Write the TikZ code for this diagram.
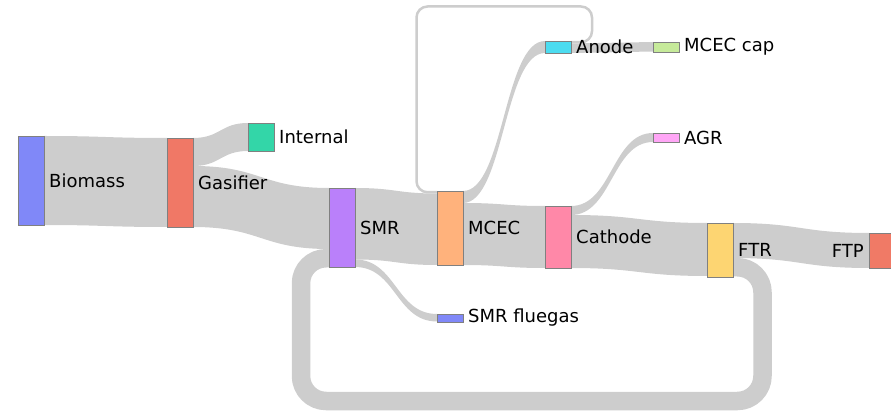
\documentclass[tikz,border=0pt]{standalone}
\usepackage{fontspec}
\setmainfont{DejaVu Sans}
\usetikzlibrary{calc}
\pgfdeclarelayer{bg}
\pgfsetlayers{bg,main}
\definecolor{linkgray}{RGB}{205,205,205}
\definecolor{cBio}{RGB}{128,136,248}
\definecolor{cGas}{RGB}{240,120,102}
\definecolor{cInt}{RGB}{51,214,168}
\definecolor{cSmr}{RGB}{186,128,250}
\definecolor{cMcec}{RGB}{255,178,124}
\definecolor{cCath}{RGB}{255,136,168}
\definecolor{cAnode}{RGB}{76,220,240}
\definecolor{cCap}{RGB}{198,234,154}
\definecolor{cAgr}{RGB}{255,166,246}
\definecolor{cFtr}{RGB}{253,213,114}
\definecolor{cFtp}{RGB}{240,122,102}
\definecolor{cFlue}{RGB}{128,136,248}
\tikzset{
  sknode/.style={draw=black!50, line width=0.6pt, inner sep=0pt, outer sep=0pt,
    minimum width=26pt, anchor=north west},
  lbl/.style={font=\fontsize{18}{20}\selectfont, inner sep=0pt, text=black},
  linkfill/.style={fill=linkgray},
  loopband/.style={draw=linkgray, line cap=butt, line join=round},
}
\newcommand{\sklink}[5]{%
  \fill[linkfill] let \p1=($(#1.north east)+(0,#2)$), \p2=($(#3.north west)+(0,#4)$),
    \p3=($(\p1)!0.5!(\p2)$) in
    (\p1) .. controls (\x3,\y1) and (\x3,\y2) .. (\p2)
    -- (\x2,{\y2-#5pt}) .. controls (\x3,{\y2-#5pt}) and (\x3,{\y1-#5pt}) .. (\x1,{\y1-#5pt}) -- cycle;}
\begin{document}
\begin{tikzpicture}[x=1pt,y=-1pt]
\useasboundingbox (0,0) rectangle (891,411);
% nodes
\node[sknode, fill=cBio,   minimum height=89pt] (bio)   at (18,136) {};
\node[sknode, fill=cGas,   minimum height=89pt] (gas)   at (167,138) {};
\node[sknode, fill=cInt,   minimum height=28pt] (int)   at (248,123) {};
\node[sknode, fill=cSmr,   minimum height=79pt] (smr)   at (329,188) {};
\node[sknode, fill=cMcec,  minimum height=74pt] (mcec)  at (437,191) {};
\node[sknode, fill=cCath,  minimum height=62pt] (cath)  at (545,206) {};
\node[sknode, fill=cAnode, minimum height=12pt] (anode) at (545,41) {};
\node[sknode, fill=cCap,   minimum height=10pt] (cap)   at (653,42) {};
\node[sknode, fill=cAgr,   minimum height=9pt]  (agr)   at (653,133) {};
\node[sknode, fill=cFtr,   minimum height=54pt] (ftr)   at (707,223) {};
\node[sknode, fill=cFtp,   minimum height=35pt] (ftp)   at (869,233) {};
\node[sknode, fill=cFlue,  minimum height=8pt]  (flue)  at (437,314) {};
% links
\begin{pgfonlayer}{bg}
\sklink{bio}{0}{gas}{0}{89}
\sklink{gas}{0}{int}{0}{28}
\sklink{gas}{28}{smr}{0}{61}
\sklink{smr}{0}{mcec}{2.5}{71.5}
\sklink{smr}{71.5}{flue}{0}{7.5}
\sklink{mcec}{0}{anode}{0}{12}
\sklink{mcec}{12}{cath}{0}{62}
\sklink{anode}{2.5}{cap}{0}{9.5}
\sklink{cath}{0}{agr}{0}{9}
\sklink{cath}{9}{ftr}{0}{53}
\sklink{ftr}{0}{ftp}{0}{35}
% recycle FTR -> SMR
\draw[loopband, line width=18.5pt, rounded corners=25pt]
  let \p1=($(ftr.north east)+(0,44.25)$), \p2=($(smr.north west)+(0,70.25)$) in
  (\p1) -- ({\x1+29.5pt},\y1) -- ({\x1+29.5pt},{\y2-142.75pt})
  -- ({\x2-28pt},{\y2-142.75pt}) -- ({\x2-28pt},\y2) -- (\p2);
% recycle Anode -> MCEC
\draw[loopband, line width=2.5pt, rounded corners=11pt]
  let \p1=($(anode.north east)+(0,1.25)$), \p2=($(mcec.north west)+(0,1.25)$) in
  (\p1) -- ({\x1+21pt},\y1) -- ({\x1+21pt},{\y1+35.75pt})
  -- ({\x2-20.5pt},{\y1+35.75pt}) -- ({\x2-20.5pt},\y2) -- (\p2);
\end{pgfonlayer}
% labels
\node[lbl, anchor=west] (biolbl)   at ($(bio.east)+(5,0)$)   {Biomass};
\node[lbl, anchor=west] (gaslbl)   at ($(gas.east)+(5,0)$)   {Gasifier};
\node[lbl, anchor=west] (intlbl)   at ($(int.east)+(5,0)$)   {Internal};
\node[lbl, anchor=west] (smrlbl)   at ($(smr.east)+(5,0)$)   {SMR};
\node[lbl, anchor=west] (mceclbl)  at ($(mcec.east)+(5,0)$)  {MCEC};
\node[lbl, anchor=west] (cathlbl)  at ($(cath.east)+(5,0)$)  {Cathode};
\node[lbl, anchor=west] (anodelbl) at ($(anode.east)+(5,0)$) {Anode};
\node[lbl, anchor=west] (caplbl)   at ($(cap.east)+(5,0)$)   {MCEC cap};
\node[lbl, anchor=west] (agrlbl)   at ($(agr.east)+(5,0)$)   {AGR};
\node[lbl, anchor=west] (ftrlbl)   at ($(ftr.east)+(5,0)$)   {FTR};
\node[lbl, anchor=east] (ftplbl)   at ($(ftp.west)+(-5,0)$)  {FTP};
\node[lbl, anchor=west] (fluelbl)  at ($(flue.east)+(5,0)$)  {SMR fluegas};
\end{tikzpicture}
\end{document}
